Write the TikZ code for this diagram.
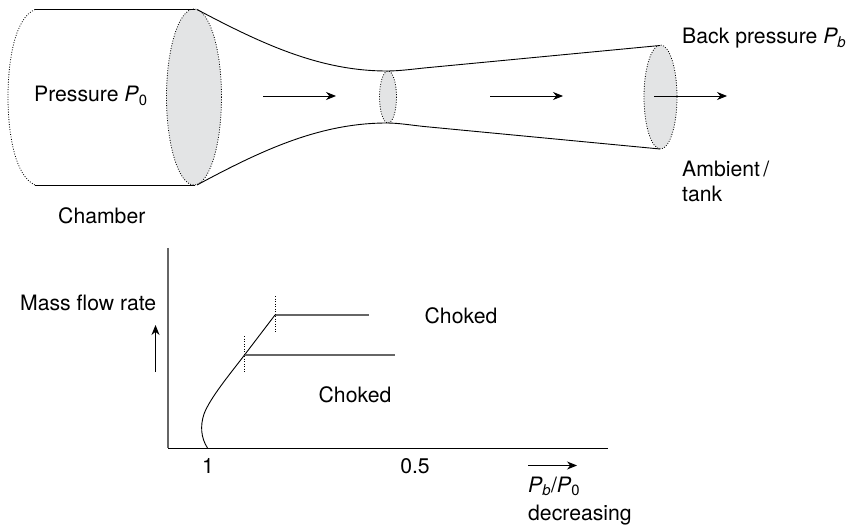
\documentclass[tikz,border=0pt]{standalone}
\usepackage{fontspec}
\setmainfont{TeX Gyre Heros}
\usetikzlibrary{arrows.meta}
\definecolor{DiscGray}{HTML}{E3E4E5}
\definecolor{AxisGray}{HTML}{666666}
\tikzset{
    label/.style={font=\fontsize{21.2}{25}\selectfont, inner sep=0pt},
    flow/.style={black, line width=0.9pt, -{Stealth[length=10pt, width=8pt]}},
    rim/.style={black, line width=0.8pt, dash pattern=on 0.9pt off 1.6pt},
    wall/.style={black, line width=0.9pt},
    plateau/.style={AxisGray, line width=1.5pt}
}
\NewDocumentCommand{\DrawDisc}{O{0} O{10} O{10}}{
    \draw[rim, fill=DiscGray] (#1,97) ellipse ({#2} and {#3});
}
\begin{document}
\begin{tikzpicture}[x=1pt, y=-1pt]

    \useasboundingbox (0,0) rectangle (848,529);

    % nozzle
    \DrawDisc[194][27.5][88]
    \DrawDisc[388][8.5][26]
    \DrawDisc[660.5][16.5][52]
    \draw[rim] (35,9.5) .. controls (15,18) and (8,60) .. (8,97) .. controls (8,134) and (15,176) .. (35,185);
    \draw[wall] (35,9.5) -- (195,9.5);
    \draw[wall] (35,185) -- (195,185);
    \draw[wall] (197,9.5) .. controls (262,44) and (320,71) .. (387,71);
    \draw[wall] (197,185) .. controls (262,150) and (320,123) .. (387,123);
    \draw[wall] (387,71) .. controls (398,71) and (410,69.5) .. (424,68) -- (660,45.5);
    \draw[wall] (387,123) .. controls (398,123) and (410,125) .. (424,126.5) -- (660,149);

    \coordinate (in1) at (263,96);
    \coordinate (out1) at (336,96);
    \coordinate (in2) at (490,96);
    \coordinate (out2) at (563,96);
    \coordinate (in3) at (654,96);
    \coordinate (out3) at (727,96);
    \draw[flow] (in1) -- (out1);
    \draw[flow] (in2) -- (out2);
    \draw[flow] (in3) -- (out3);

    \node[label, anchor=base west] (pressure) at (34,102) {Pressure \textit{P}\textsubscript{0}};
    \node[label, anchor=base west] (chamber) at (58,224) {Chamber};
    \node[label, anchor=base west] (back) at (682,44) {Back pressure \textit{P\textsubscript{b}}};
    \node[label, anchor=north west, align=left] (ambient) at (682,161) {Ambient\,/\\tank};

    % plot
    \coordinate (origin) at (168,448);
    \coordinate (ytop) at (168,248);
    \coordinate (xend) at (608,448);
    \coordinate (kneeA) at (275,315);
    \coordinate (kneeB) at (244.5,355);
    \draw[AxisGray, line width=1.5pt] (ytop) -- (origin);
    \draw[wall] (origin) -- (xend);
    \draw[wall] (207.5,448) .. controls (201,438) and (200,426) .. (204,414) .. controls (210,398) and (230,374) .. (kneeB) -- (kneeA);
    \draw[plateau] (kneeA) -- (368.5,315);
    \draw[plateau] (kneeB) -- (395,355);
    \draw[rim] (275,296) -- (275,333);
    \draw[rim] (244.5,336) -- (244.5,372);

    \coordinate (upA) at (155.5,372);
    \coordinate (upB) at (155.5,325);
    \draw[flow] (upA) -- (upB);
    \coordinate (ratioA) at (528,465.5);
    \coordinate (ratioB) at (577,465.5);
    \draw[flow] (ratioA) -- (ratioB);

    \node[label, anchor=base west] (massflow) at (20,310) {Mass flow rate};
    \node[label, anchor=base] (chokedA) at (461,323) {Choked};
    \node[label, anchor=base] (chokedB) at (355,402) {Choked};
    \node[label, anchor=base] (one) at (208,473) {1};
    \node[label, anchor=base] (half) at (415,473) {0.5};
    \node[label, anchor=base west] (ratio) at (528,492) {\textit{P\textsubscript{b}}/\textit{P}\textsubscript{0}};
    \node[label, anchor=base west] (decreasing) at (528,520) {decreasing};
\end{tikzpicture}
\end{document}
